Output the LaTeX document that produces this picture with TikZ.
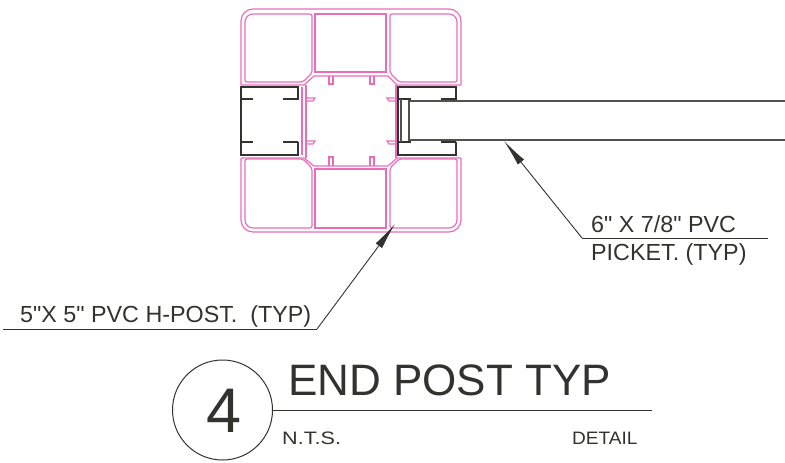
\documentclass[tikz,border=0pt]{standalone}
\usepackage{fontspec}
\setmainfont{Liberation Sans}[Ligatures=TeXOff]
\usetikzlibrary{arrows.meta}
\definecolor{postpink}{RGB}{232,110,186}
\definecolor{inkgrey}{RGB}{50,50,46}
\tikzstyle{postline} = [draw=postpink, line width=1.2pt]
\tikzstyle{channel} = [draw=inkgrey, line width=1.8pt]
\tikzstyle{picket} = [draw=inkgrey!85, line width=1.1pt]
\tikzstyle{label} = [anchor=base west, inner sep=0pt, text=inkgrey]
\tikzstyle{leader} = [draw=inkgrey, line width=0.9pt]
\tikzstyle{line} = [leader, -{Latex[length=27pt,width=8pt]}]
\begin{document}
\begin{tikzpicture}[x=1pt, y=-1pt]
    \useasboundingbox (0,0) rectangle (785,463);
    % Outer wall of the post
    \path [postline, rounded corners=12] (241,85) -- (241,9) -- (461,9) -- (461,85);
    \path [postline, rounded corners=12] (241,158) -- (241,232) -- (461,232) -- (461,158);
    \path [postline] (241,85) -- (304,85) -- (314,76) -- (388,76) -- (397,85) -- (461,85);
    \path [postline] (241,158) -- (304,158) -- (314,166) -- (388,166) -- (397,158) -- (461,158);
    \path [postline] (306,85) -- (306,158);
    \path [postline] (396,85) -- (396,158);
    \path [postline] (302,87) -- (302,155);
    % Cells
    \path [postline] (245,48) [rounded corners=8] -- (245,14) [rounded corners=2] -- (312,14) -- (312,73) -- (303,82) -- (245,82) -- cycle;
    \path [postline] (315,14) rectangle (386,72);
    \path [postline] (457,48) [rounded corners=8] -- (457,14) [rounded corners=2] -- (390,14) -- (390,73) -- (399,82) -- (457,82) -- cycle;
    \path [postline] (245,194) [rounded corners=8] -- (245,228) [rounded corners=2] -- (312,228) -- (312,168) -- (303,159) -- (245,159) -- cycle;
    \path [postline] (315,169) rectangle (386,228);
    \path [postline] (457,194) [rounded corners=8] -- (457,228) [rounded corners=2] -- (390,228) -- (390,168) -- (399,159) -- (457,159) -- cycle;
    % Tabs
    \foreach \tabx in {329,370} {
        \path [postline] (\tabx,76) -- (\tabx,84) -- (\tabx+4,84) -- (\tabx+4,76);
        \path [postline] (\tabx,166) -- (\tabx,157) -- (\tabx+4,157) -- (\tabx+4,166);
    }
    \foreach \taby in {98,141} {
        \path [postline] (306,\taby) -- (315,\taby) -- (313,\taby+3) -- (306,\taby+3);
        \path [postline] (396,\taby) -- (387,\taby) -- (389,\taby+3) -- (396,\taby+3);
    }
    % H channels
    \path [channel] (298,100) -- (298,87) -- (241,87) -- (241,155) -- (298,155) -- (298,142);
    \path [channel] (456,100) -- (456,87) -- (398,87) -- (398,155) -- (456,155) -- (456,142);
    \foreach \lipy in {99,142} {
        \path [channel] (241,\lipy) -- (253,\lipy);
        \path [channel] (283,\lipy) -- (298,\lipy);
        \path [channel] (398,\lipy) -- (411,\lipy);
        \path [channel] (441,\lipy) -- (456,\lipy);
    }
    % Picket
    \path [picket, fill=white] (785,101) -- (409,101) -- (409,140) -- (785,140);
    \path [picket] (401,99) -- (401,142);
    % Place nodes
    \coordinate (pickettip) at (504,141);
    \coordinate (picketelbow) at (582,238);
    \coordinate (picketend) at (768,238);
    \coordinate (posttip) at (395,224);
    \coordinate (postelbow) at (317,329);
    \coordinate (postend) at (3,329);
    \coordinate (titleend) at (652,410);
    \node [label, font=\fontsize{23.3}{23.3}\selectfont] (picketsize) at (591,232) {6" X 7/8" PVC};
    \node [label, font=\fontsize{23.3}{23.3}\selectfont] (picketname) at (591,260) {PICKET. (TYP)};
    \node [label, font=\fontsize{23.3}{23.3}\selectfont] (postname) at (20,322) {5"X 5" PVC H-POST.\ \ (TYP)};
    \node [draw=inkgrey, line width=1pt, circle, minimum size=100pt, inner sep=0pt] (detailcircle) at (222.5,410) {};
    \node [label, anchor=base, font=\fontsize{63}{63}\selectfont] (detailnum) at (224.5,432) {4};
    \node [label, font=\fontsize{44}{44}\selectfont] (title) at (288,395) {END POST TYP};
    \node [label, font=\fontsize{18}{18}\selectfont, xscale=1.2] (nts) at (282,444) {N.T.S.};
    \node [label, font=\fontsize{18}{18}\selectfont, xscale=1.06] (detail) at (572,444) {DETAIL};
    % Draw edges
    \path [line] (picketelbow) -- (pickettip);
    \path [leader] (picketelbow) -- (picketend);
    \path [line] (postelbow) -- (posttip);
    \path [leader] (postelbow) -- (postend);
    \path [leader] (detailcircle.east) -- (titleend);
\end{tikzpicture}
\end{document}
